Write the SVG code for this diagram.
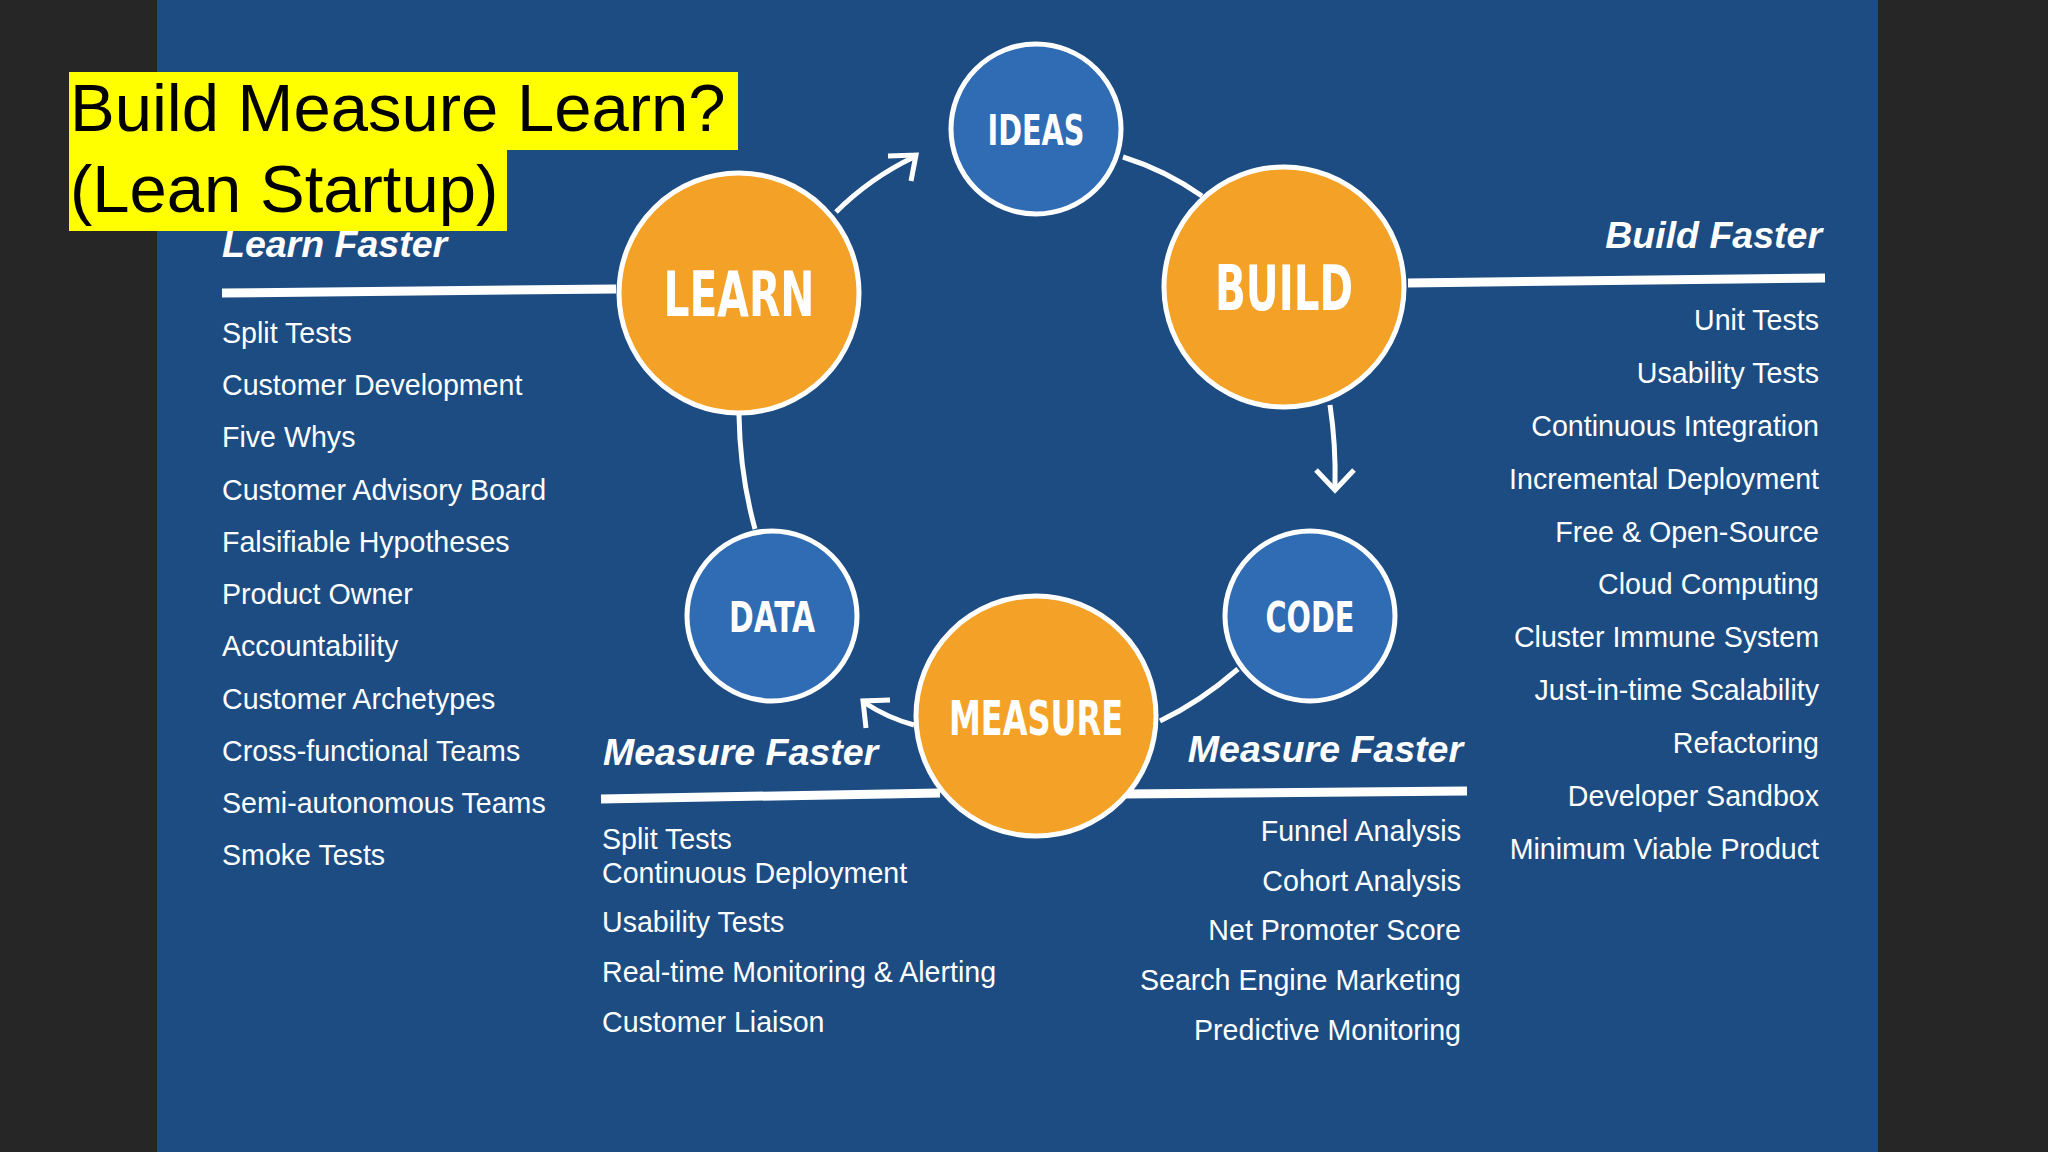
<svg xmlns="http://www.w3.org/2000/svg" width="2048" height="1152" viewBox="0 0 2048 1152">
<defs>
<style>
.ob{fill:#f4a127;stroke:#fff;stroke-width:5}
.bl{fill:#2f6cb3;stroke:#fff;stroke-width:5}
.nl{font-family:"DejaVu Sans Condensed","DejaVu Sans",sans-serif;font-weight:bold;fill:#fff;text-anchor:middle}
.hd{font-family:"Liberation Sans",Arial,sans-serif;font-weight:bold;font-style:italic;fill:#fff;font-size:37.5px}
.it{font-family:"Liberation Sans",Arial,sans-serif;fill:#fff;font-size:28.6px}
.r{text-anchor:end}
.ln{stroke:#fff;stroke-width:9;fill:none}
.cn{stroke:#fff;stroke-width:5;fill:none}
.ttl{font-family:"Liberation Sans",Arial,sans-serif;font-size:67px;fill:#000}
</style>
</defs>
<rect width="2048" height="1152" fill="#262626"/>
<rect x="157" y="0" width="1721" height="1152" fill="#1c4c82"/>
<g id="connectors">
<path class="cn" d="M1123,157 Q1165,170 1202,196"/>
<path class="cn" d="M1330,405 Q1336,445 1335,486"/>
<path class="cn" d="M1316,470 L1335,490 L1354,470"/>
<path class="cn" d="M1238,669 Q1200,702 1160,721"/>
<path class="cn" d="M914,725 Q888,718 865,703"/>
<path class="cn" d="M866,728 L863,701 L890,700"/>
<path class="cn" d="M755,529 Q740,475 739,415"/>
<path class="cn" d="M836,212 Q870,178 914,157"/>
<path class="cn" d="M888,156 L916,155 L911,181"/>
<path class="ln" d="M222,293 L616,289"/>
<path class="ln" d="M1408,283 L1825,278"/>
<path class="ln" d="M601,799 L940,793"/>
<path class="ln" d="M1123,794 L1467,791"/>
</g>
<g id="ideas"><circle class="bl" cx="1036" cy="129" r="85"/><text class="nl" x="1036" y="145" font-size="42" textLength="97" lengthAdjust="spacingAndGlyphs">IDEAS</text></g>
<g id="build"><circle class="ob" cx="1284" cy="287" r="120"/><text class="nl" x="1284" y="310" font-size="62" textLength="138" lengthAdjust="spacingAndGlyphs">BUILD</text></g>
<g id="code"><circle class="bl" cx="1310" cy="616" r="85"/><text class="nl" x="1310" y="632" font-size="42" textLength="89" lengthAdjust="spacingAndGlyphs">CODE</text></g>
<g id="measure"><circle class="ob" cx="1036" cy="716" r="120"/><text class="nl" x="1036" y="735" font-size="48" textLength="174" lengthAdjust="spacingAndGlyphs">MEASURE</text></g>
<g id="data"><circle class="bl" cx="772" cy="616" r="85"/><text class="nl" x="772" y="632" font-size="42" textLength="86" lengthAdjust="spacingAndGlyphs">DATA</text></g>
<g id="learn"><circle class="ob" cx="739" cy="293" r="120"/><text class="nl" x="739" y="316" font-size="62" textLength="151" lengthAdjust="spacingAndGlyphs">LEARN</text></g>
<g id="learn-faster">
<text class="hd" x="222" y="257">Learn Faster</text>
<text class="it" x="222" y="343">Split Tests</text>
<text class="it" x="222" y="395">Customer Development</text>
<text class="it" x="222" y="447">Five Whys</text>
<text class="it" x="222" y="500">Customer Advisory Board</text>
<text class="it" x="222" y="552">Falsifiable Hypotheses</text>
<text class="it" x="222" y="604">Product Owner</text>
<text class="it" x="222" y="656">Accountability</text>
<text class="it" x="222" y="709">Customer Archetypes</text>
<text class="it" x="222" y="761">Cross-functional Teams</text>
<text class="it" x="222" y="813">Semi-autonomous Teams</text>
<text class="it" x="222" y="865">Smoke Tests</text>
</g>
<g id="build-faster">
<text class="hd r" x="1822" y="248">Build Faster</text>
<text class="it r" x="1819" y="330">Unit Tests</text>
<text class="it r" x="1819" y="383">Usability Tests</text>
<text class="it r" x="1819" y="436">Continuous Integration</text>
<text class="it r" x="1819" y="489">Incremental Deployment</text>
<text class="it r" x="1819" y="542">Free &amp; Open-Source</text>
<text class="it r" x="1819" y="594">Cloud Computing</text>
<text class="it r" x="1819" y="647">Cluster Immune System</text>
<text class="it r" x="1819" y="700">Just-in-time Scalability</text>
<text class="it r" x="1819" y="753">Refactoring</text>
<text class="it r" x="1819" y="806">Developer Sandbox</text>
<text class="it r" x="1819" y="859">Minimum Viable Product</text>
</g>
<g id="measure-left">
<text class="hd" x="603" y="765">Measure Faster</text>
<text class="it" x="602" y="849">Split Tests</text>
<text class="it" x="602" y="883">Continuous Deployment</text>
<text class="it" x="602" y="932">Usability Tests</text>
<text class="it" x="602" y="982">Real-time Monitoring &amp; Alerting</text>
<text class="it" x="602" y="1032">Customer Liaison</text>
</g>
<g id="measure-right">
<text class="hd r" x="1463" y="762">Measure Faster</text>
<text class="it r" x="1461" y="841">Funnel Analysis</text>
<text class="it r" x="1461" y="891">Cohort Analysis</text>
<text class="it r" x="1461" y="940">Net Promoter Score</text>
<text class="it r" x="1461" y="990">Search Engine Marketing</text>
<text class="it r" x="1461" y="1040">Predictive Monitoring</text>
</g>
<g id="title">
<rect x="69" y="72" width="669" height="78" fill="#ffff00"/>
<rect x="69" y="150" width="438" height="81" fill="#ffff00"/>
<text class="ttl" x="70" y="131">Build Measure Learn?</text>
<text class="ttl" x="70" y="212">(Lean Startup)</text>
</g>
</svg>
